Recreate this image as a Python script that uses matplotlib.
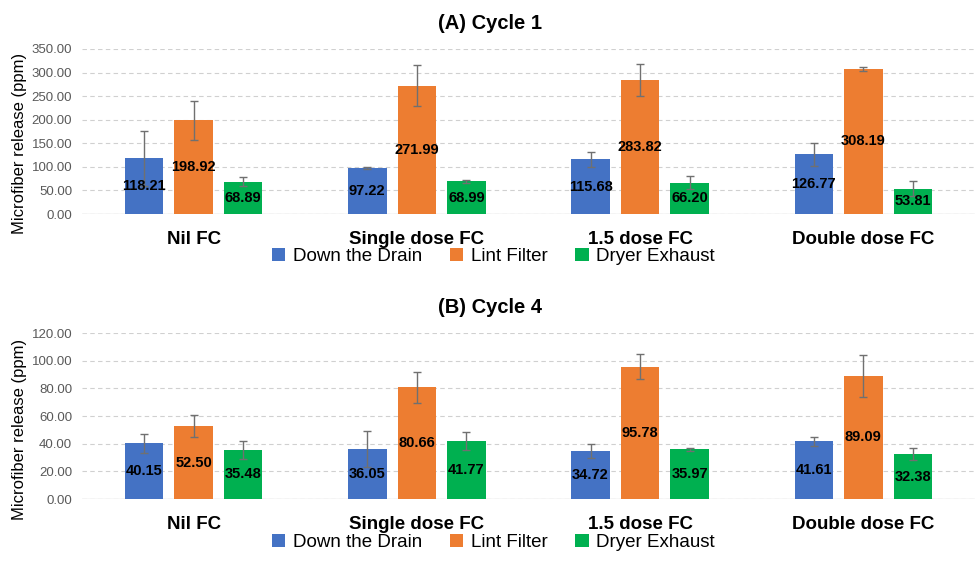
import matplotlib
matplotlib.use("Agg")
import matplotlib.pyplot as plt
from matplotlib.patches import Patch
import numpy as np

plt.rcParams['font.family'] = ['Liberation Sans', 'DejaVu Sans']

categories = ["Nil FC", "Single dose FC", "1.5 dose FC", "Double dose FC"]
series = ["Down the Drain", "Lint Filter", "Dryer Exhaust"]
colors = ["#4472C4", "#ED7D31", "#00B050"]

c1_drain = [118.21, 97.22, 115.68, 126.77]
c1_lint = [198.92, 271.99, 283.82, 308.19]
c1_dryer = [68.89, 68.99, 66.20, 53.81]
c1_drain_err = [58.0, 1.5, 16.8, 24.6]
c1_lint_err = [41.5, 43.7, 34.3, 4.4]
c1_dryer_err = [9.8, 2.6, 13.7, 16.2]

c4_drain = [40.15, 36.05, 34.72, 41.61]
c4_lint = [52.50, 80.66, 95.78, 89.09]
c4_dryer = [35.48, 41.77, 35.97, 32.38]
c4_drain_err = [7.2, 13.0, 4.9, 3.3]
c4_lint_err = [7.9, 11.3, 9.0, 15.0]
c4_dryer_err = [6.5, 6.5, 1.2, 4.3]

panels = [
    dict(title="(A) Cycle 1", vals=[c1_drain, c1_lint, c1_dryer],
         errs=[c1_drain_err, c1_lint_err, c1_dryer_err],
         ymax=350, step=50, rect=[0.0841, 0.6185, 0.9159, 0.2942],
         title_y=0.959, leg_y=0.524, lab_y=0.43),
    dict(title="(B) Cycle 4", vals=[c4_drain, c4_lint, c4_dryer],
         errs=[c4_drain_err, c4_lint_err, c4_dryer_err],
         ymax=120, step=20, rect=[0.0841, 0.1105, 0.9159, 0.2959],
         title_y=0.451, leg_y=0.014, lab_y=0.42),
]

fig = plt.figure(figsize=(9.75, 5.61), dpi=100)
x = np.arange(len(categories))
width = 0.1725
offset = 0.222

for p in panels:
    ax = fig.add_axes(p["rect"])
    for i, (vals, errs) in enumerate(zip(p["vals"], p["errs"])):
        pos = x + (i - 1) * offset
        ax.bar(pos, vals, width, color=colors[i], zorder=2)
        ax.errorbar(pos, vals, yerr=errs, fmt='none', ecolor='#707070',
                    elinewidth=1, capsize=3, capthick=1, zorder=3)
        for xx, v in zip(pos, vals):
            ax.text(xx, v / 2, f"{v:.2f}", ha='center', va='center',
                    fontsize=10.5, fontweight='bold', color='black', zorder=4)
    ax.set_xlim(-0.5, len(categories) - 0.5)
    ax.set_ylim(0, p["ymax"])
    ticks = np.arange(0, p["ymax"] + 0.001, p["step"])
    ax.set_yticks(ticks)
    ax.set_yticklabels([f"{t:.2f}" for t in ticks], fontsize=9.5, color='#595959')
    ax.set_xticks(x)
    ax.set_xticklabels(categories, fontsize=13.5, fontweight='bold')
    ax.tick_params(axis='both', length=0)
    ax.tick_params(axis='x', pad=12)
    ax.tick_params(axis='y', pad=7)
    for s in ax.spines.values():
        s.set_visible(False)
    ax.grid(axis='y', color='#d0d0d0', linestyle=(0, (4, 3)), linewidth=0.8, zorder=0)
    ax.axhline(0, color='#d9d9d9', linewidth=1, zorder=1)
    ax.set_ylabel("Microfiber release (ppm)", fontsize=12, color='black')
    ax.yaxis.set_label_coords(-0.0615, p["lab_y"])
    fig.text(0.503, p["title_y"], p["title"], ha='center', va='center',
             fontsize=14.5, fontweight='bold')
    handles = [Patch(facecolor=c, edgecolor='none', label=s) for c, s in zip(colors, series)]
    fig.legend(handles=handles, loc='lower center', bbox_to_anchor=(0.506, p["leg_y"] - 0.02),
               ncol=3, frameon=False, fontsize=13.5, handlelength=0.7, handleheight=0.7,
               handletextpad=0.4, columnspacing=1.5, borderpad=0.2)

fig.savefig("out.png", dpi=100)
